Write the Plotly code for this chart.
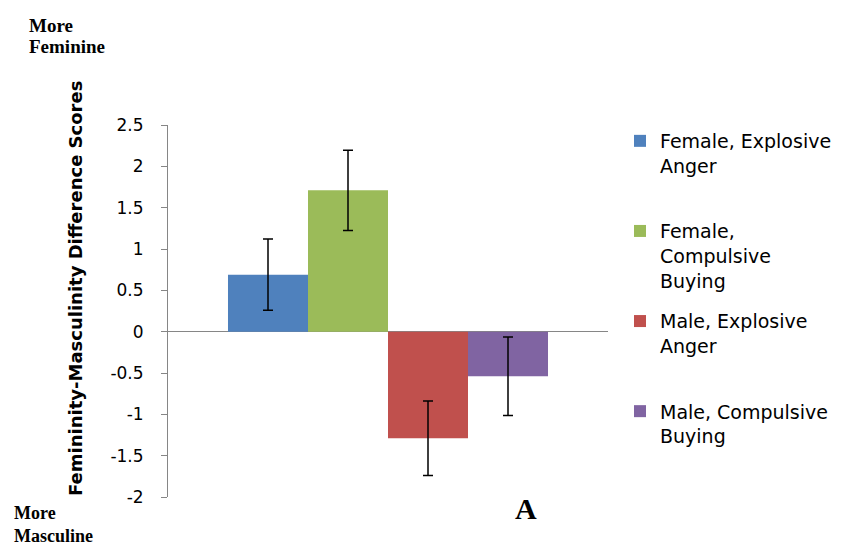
import plotly.graph_objects as go

# Group means and standard errors of the femininity-masculinity difference scores
series_names = [
    "Female, Explosive<br>Anger<br> ",
    "Female,<br>Compulsive<br>Buying",
    "Male, Explosive<br>Anger<br> ",
    "Male, Compulsive<br>Buying",
]
series_values = [0.69, 1.71, -1.29, -0.54]
series_errors = [0.43, 0.485, 0.45, 0.475]
series_colors = ["#4F81BD", "#9BBB59", "#C0504D", "#8064A2"]

tick_values = [-2, -1.5, -1, -0.5, 0, 0.5, 1, 1.5, 2, 2.5]
tick_labels = ["-2", "-1.5", "-1", "-0.5", "0", "0.5", "1", "1.5", "2", "2.5"]

W, H = 841, 547
ML, MR, MT, MB = 168, 233, 125, 50
PW, PH = W - ML - MR, H - MT - MB


def px_x(x):
    return (x - ML) / PW


def px_y(y):
    return (H - MB - y) / PH


fig = go.Figure()
for i, (name, val, err, col) in enumerate(zip(series_names, series_values, series_errors, series_colors)):
    fig.add_trace(go.Bar(
        x=[0], y=[val], name=name, legendgroup=f"g{i}",
        marker=dict(color=col, line=dict(width=0)),
        error_y=dict(type="data", array=[err], visible=True,
                     color="#000000", thickness=1.5, width=5),
    ))

serif = "Liberation Serif, Times New Roman, serif"
annotations = [
    dict(text="<b>More</b>", x=px_x(27), y=px_y(25), xanchor="left", yanchor="middle", size=19),
    dict(text="<b>Feminine</b>", x=px_x(27), y=px_y(47), xanchor="left", yanchor="middle", size=19),
    dict(text="<b>More</b><br><b>Masculine</b>", x=px_x(12), y=px_y(548),
         xanchor="left", yanchor="bottom", size=18),
]
for a in annotations:
    size = a.pop("size")
    a.update(xref="paper", yref="paper", showarrow=False, align="left",
             font=dict(family=serif, size=size, color="#000000"))
annotations.append(dict(
    text="<b>A</b>", x=px_x(526), y=px_y(508), xref="paper", yref="paper",
    xanchor="center", yanchor="middle", showarrow=False,
    font=dict(family=serif, size=30, color="#000000")))
annotations.append(dict(
    text="<b>Femininity-Masculinity Difference Scores</b>",
    x=px_x(75), y=px_y(289), xref="paper", yref="paper",
    xanchor="center", yanchor="middle", textangle=-90, showarrow=False,
    font=dict(family="DejaVu Sans, sans-serif", size=18, color="#000000")))

fig.update_layout(
    width=W, height=H,
    margin=dict(l=ML, r=MR, t=MT, b=MB, autoexpand=False),
    paper_bgcolor="#FFFFFF", plot_bgcolor="#FFFFFF",
    barmode="group", bargap=0.2727, bargroupgap=0,
    showlegend=True,
    legend=dict(
        x=px_x(620), y=px_y(122), xanchor="left", yanchor="top",
        traceorder="grouped", tracegroupgap=13, valign="top", maxheight=700,
        font=dict(family="DejaVu Sans, sans-serif", size=19, color="#000000"),
        bgcolor="rgba(0,0,0,0)",
    ),
    xaxis=dict(range=[-0.5, 0.5], showticklabels=False, showgrid=False,
               zeroline=False, showline=False, ticks=""),
    yaxis=dict(range=[-2, 2.5], tickvals=tick_values, ticktext=tick_labels,
               showgrid=False, showline=True, linecolor="#868686", linewidth=1,
               ticks="outside", ticklen=6, tickcolor="#868686", tickwidth=1,
               zeroline=True, zerolinecolor="#868686", zerolinewidth=1,
               ticklabelstandoff=14,
               tickfont=dict(family="DejaVu Sans, sans-serif", size=17, color="#000000")),
    annotations=annotations,
)

fig.write_html("out.html")
